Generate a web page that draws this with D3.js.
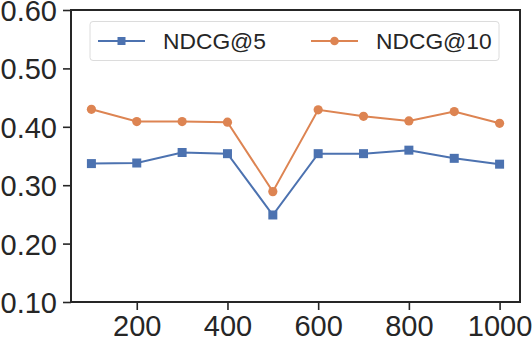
<!DOCTYPE html>
<html>
<head>
<meta charset="utf-8">
<script src="https://cdn.jsdelivr.net/npm/d3@7"></script>
<style>
  body { margin: 0; background: #fff; }
  svg { display: block; font-family: "Liberation Sans", Arial, sans-serif; }
</style>
</head>
<body>
<div class="chart"></div>
<script>
const svgWidth = 532;
const svgHeight = 342;

const margin = { top: 10, right: 12, bottom: 40, left: 71 };
const width = svgWidth - margin.left - margin.right;
const height = svgHeight - margin.top - margin.bottom;

// data
const xValues = [100, 200, 300, 400, 500, 600, 700, 800, 900, 1000];
const ndcg5 = [0.337, 0.338, 0.356, 0.354, 0.249, 0.354, 0.354, 0.360, 0.346, 0.336];
const ndcg10 = [0.430, 0.409, 0.409, 0.408, 0.289, 0.429, 0.418, 0.410, 0.426, 0.406];
const xTicks = [200, 400, 600, 800, 1000];
const yTicks = [0.1, 0.2, 0.3, 0.4, 0.5, 0.6];
const seriesNames = ["NDCG@5", "NDCG@10"];

const textColor = "#262626";
const colors = ["#4C72B0", "#DD8452"];

const svg = d3.select(".chart")
  .append("svg")
  .attr("width", svgWidth)
  .attr("height", svgHeight);

const chartGroup = svg.append("g")
  .attr("transform", `translate(${margin.left}, ${margin.top})`);

// matplotlib-style 5% margins on x
const xScale = d3.scaleLinear()
  .domain([55, 1045])
  .range([0, width]);

const yScale = d3.scaleLinear()
  .domain([0.1, 0.6])
  .range([height, 0]);

// frame
chartGroup.append("rect")
  .attr("x", 0)
  .attr("y", 0)
  .attr("width", width)
  .attr("height", height)
  .attr("fill", "none")
  .attr("stroke", textColor)
  .attr("stroke-width", 2);

// axes
const bottomAxis = d3.axisBottom(xScale)
  .tickValues(xTicks)
  .tickFormat(d3.format("d"))
  .tickSize(8)
  .tickPadding(5)
  .tickSizeOuter(0);

const leftAxis = d3.axisLeft(yScale)
  .tickValues(yTicks)
  .tickFormat(d3.format(".2f"))
  .tickSize(8)
  .tickPadding(6)
  .tickSizeOuter(0);

const xAxis = chartGroup.append("g")
  .attr("transform", `translate(0, ${height})`)
  .call(bottomAxis);

const yAxis = chartGroup.append("g")
  .call(leftAxis);

[xAxis, yAxis].forEach(function (ax) {
  ax.select(".domain").remove();
  ax.selectAll("line").attr("stroke", textColor).attr("stroke-width", 1.6);
  ax.selectAll("text")
    .attr("fill", textColor)
    .attr("font-size", "29px")
    .attr("font-family", "'Liberation Sans', Arial, sans-serif");
});
yAxis.selectAll("text").attr("dy", "0.36em");

// lines
const allSeries = [ndcg5, ndcg10];
const line = d3.line()
  .x((d, i) => xScale(xValues[i]))
  .y(d => yScale(d));

allSeries.forEach(function (values, s) {
  chartGroup.append("path")
    .datum(values)
    .attr("fill", "none")
    .attr("stroke", colors[s])
    .attr("stroke-width", 2)
    .attr("d", line);
});

// markers
chartGroup.selectAll(".sq")
  .data(ndcg5)
  .enter()
  .append("rect")
  .attr("class", "sq")
  .attr("x", (d, i) => xScale(xValues[i]) - 4.5)
  .attr("y", d => yScale(d) - 4.5)
  .attr("width", 9)
  .attr("height", 9)
  .attr("fill", colors[0]);

chartGroup.selectAll(".dot")
  .data(ndcg10)
  .enter()
  .append("circle")
  .attr("class", "dot")
  .attr("cx", (d, i) => xScale(xValues[i]))
  .attr("cy", d => yScale(d))
  .attr("r", 4.6)
  .attr("fill", colors[1]);

// legend
const legend = svg.append("g");
legend.append("rect")
  .attr("x", 90)
  .attr("y", 21.5)
  .attr("width", 409)
  .attr("height", 39)
  .attr("rx", 3)
  .attr("fill", "#fff")
  .attr("stroke", "#dcdcdc")
  .attr("stroke-width", 1);

const legendItems = [
  { x: 98, textX: 163 },
  { x: 311, textX: 376 }
];

legendItems.forEach(function (item, s) {
  const g = legend.append("g").attr("transform", `translate(${item.x}, 41)`);
  g.append("line")
    .attr("x1", 0).attr("x2", 47)
    .attr("y1", 0).attr("y2", 0)
    .attr("stroke", colors[s])
    .attr("stroke-width", 2);
  if (s === 0) {
    g.append("rect")
      .attr("x", 19.5).attr("y", -4)
      .attr("width", 8).attr("height", 8)
      .attr("fill", colors[s]);
  } else {
    g.append("circle")
      .attr("cx", 23.5).attr("cy", 0)
      .attr("r", 4.3)
      .attr("fill", colors[s]);
  }
  legend.append("text")
    .attr("x", item.textX)
    .attr("y", 41)
    .attr("dy", "0.35em")
    .attr("fill", textColor)
    .attr("font-size", "22.8px")
    .text(seriesNames[s]);
});
</script>
</body>
</html>
